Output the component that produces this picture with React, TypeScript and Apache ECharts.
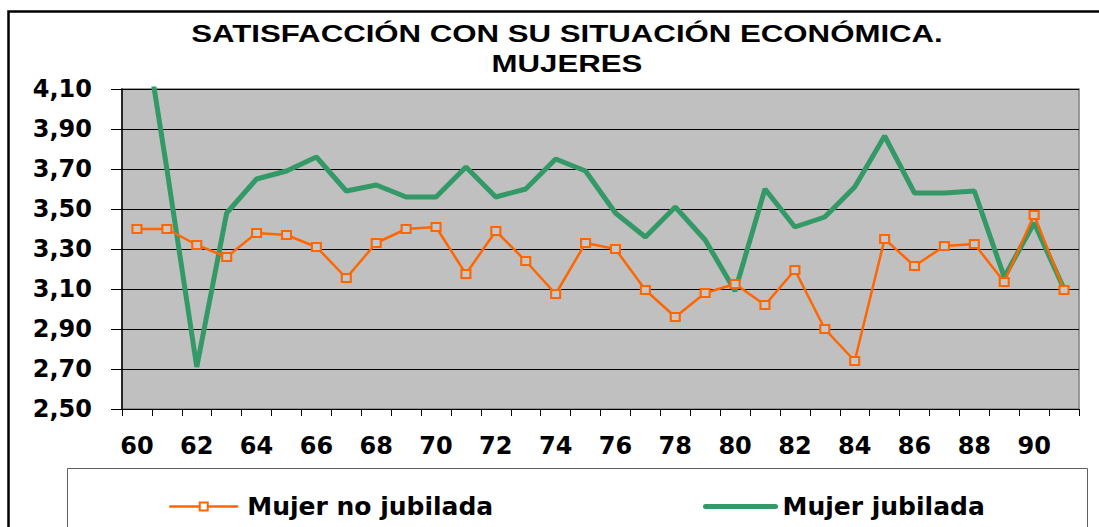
import React, { useEffect, useRef } from "react";
import * as echarts from "echarts";

const categories = [
  "60", "61", "62", "63", "64", "65", "66", "67", "68", "69",
  "70", "71", "72", "73", "74", "75", "76", "77", "78", "79",
  "80", "81", "82", "83", "84", "85", "86", "87", "88", "89",
  "90", "91",
];

const noJubilada = [
  3.40, 3.40, 3.32, 3.26, 3.38, 3.37, 3.31, 3.155, 3.33, 3.40,
  3.41, 3.175, 3.39, 3.24, 3.075, 3.33, 3.30, 3.095, 2.96, 3.08,
  3.125, 3.02, 3.195, 2.90, 2.74, 3.35, 3.215, 3.315, 3.325, 3.135,
  3.47, 3.095,
];

const jubilada = [
  4.65, 3.70, 2.71, 3.48, 3.65, 3.69, 3.76, 3.59, 3.62, 3.56,
  3.56, 3.71, 3.56, 3.60, 3.75, 3.69, 3.48, 3.36, 3.51, 3.345,
  3.09, 3.60, 3.41, 3.46, 3.61, 3.865, 3.58, 3.58, 3.59, 3.16,
  3.43, 3.10,
];

const titleLines = ["SATISFACCIÓN CON SU SITUACIÓN ECONÓMICA.", "MUJERES"];
const seriesNames = ["Mujer no jubilada", "Mujer jubilada"];

const ORANGE = "#FF6600";
const GREEN = "#339966";
const AXIS_FONT = "DejaVu Sans";

export default function App() {
  const ref = useRef<HTMLDivElement>(null);

  useEffect(() => {
    if (!ref.current) return;
    const chart = echarts.init(ref.current, null, { renderer: "svg" });
    const legendText = {
      color: "#000",
      fontFamily: AXIS_FONT,
      fontWeight: "bold" as const,
      fontSize: 25,
      padding: [0, 0, 0, 4],
    };
    chart.setOption({
      animation: false,
      backgroundColor: "#fff",
      grid: {
        left: 122,
        right: 20,
        top: 89,
        bottom: 118,
        show: true,
        backgroundColor: "#C0C0C0",
        borderColor: "#808080",
        borderWidth: 1.5,
        containLabel: false,
      },
      legend: [
        {
          data: [
            {
              name: seriesNames[0],
              itemStyle: { color: "#fff", borderColor: ORANGE, borderWidth: 2 },
            },
          ],
          left: 168,
          top: 494,
          padding: 0,
          itemWidth: 69,
          itemHeight: 10,
          lineStyle: { width: 2.5, color: ORANGE },
          textStyle: legendText,
          selectedMode: false,
        },
        {
          data: [
            {
              name: seriesNames[1],
              itemStyle: { color: "rgba(0,0,0,0)", borderWidth: 0, opacity: 0 },
            },
          ],
          left: 703,
          top: 494,
          padding: 0,
          itemWidth: 70,
          itemHeight: 10,
          lineStyle: { width: 5, color: GREEN, cap: "round" },
          textStyle: { ...legendText, padding: [0, 0, 0, 2] },
          selectedMode: false,
        },
      ],
      xAxis: {
        type: "category",
        data: categories,
        boundaryGap: true,
        axisLine: { show: true, lineStyle: { color: "#000", width: 1 } },
        axisTick: {
          show: true,
          interval: 0,
          length: 7,
          lineStyle: { color: "#000", width: 1 },
        },
        axisLabel: {
          interval: 1,
          margin: 25,
          color: "#000",
          fontFamily: AXIS_FONT,
          fontWeight: "bold",
          fontSize: 24,
        },
        splitLine: { show: false },
      },
      yAxis: {
        type: "value",
        min: 2.5,
        max: 4.1,
        interval: 0.2,
        axisLine: { show: true, lineStyle: { color: "#000", width: 1.5 } },
        axisTick: {
          show: true,
          length: 11,
          lineStyle: { color: "#000", width: 1 },
        },
        axisLabel: {
          margin: 30,
          color: "#000",
          fontFamily: AXIS_FONT,
          fontWeight: "bold",
          fontSize: 24,
          formatter: (v: number) => v.toFixed(2).replace(".", ","),
        },
        splitLine: { show: true, lineStyle: { color: "#000", width: 1 } },
      },
      series: [
        {
          name: seriesNames[1],
          type: "line",
          data: jubilada,
          symbol: "none",
          clip: true,
          lineStyle: { color: GREEN, width: 5 },
          itemStyle: { color: GREEN },
          z: 2,
        },
        {
          name: seriesNames[0],
          type: "line",
          data: noJubilada,
          symbol: "rect",
          symbolSize: [9, 8],
          clip: true,
          lineStyle: { color: ORANGE, width: 2.5 },
          itemStyle: { color: "#C8C8C8", borderColor: ORANGE, borderWidth: 2 },
          z: 3,
        },
      ],
      graphic: [
        {
          type: "rect",
          shape: { x: 8.5, y: 11.5, width: 1200, height: 1000 },
          style: { fill: "none", stroke: "#000", lineWidth: 2.5 },
          silent: true,
          z: 100,
        },
        {
          type: "rect",
          shape: { x: 67.5, y: 468.5, width: 1020, height: 200 },
          style: { fill: "none", stroke: "#606060", lineWidth: 1 },
          silent: true,
          z: 100,
        },
        {
          type: "text",
          x: 567,
          y: 34,
          scaleX: 1.3,
          style: {
            text: titleLines[0],
            fill: "#000",
            fontFamily: "Liberation Sans",
            fontWeight: "bold",
            fontSize: 24,
            textAlign: "center",
            verticalAlign: "middle",
          },
          silent: true,
        },
        {
          type: "text",
          x: 567,
          y: 64,
          scaleX: 1.3,
          style: {
            text: titleLines[1],
            fill: "#000",
            fontFamily: "Liberation Sans",
            fontWeight: "bold",
            fontSize: 24,
            textAlign: "center",
            verticalAlign: "middle",
          },
          silent: true,
        },
      ],
    });
    return () => chart.dispose();
  }, []);

  return (
    <div
      ref={ref}
      style={{ position: "absolute", left: 0, top: 0, width: 1099, height: 527 }}
    />
  );
}
